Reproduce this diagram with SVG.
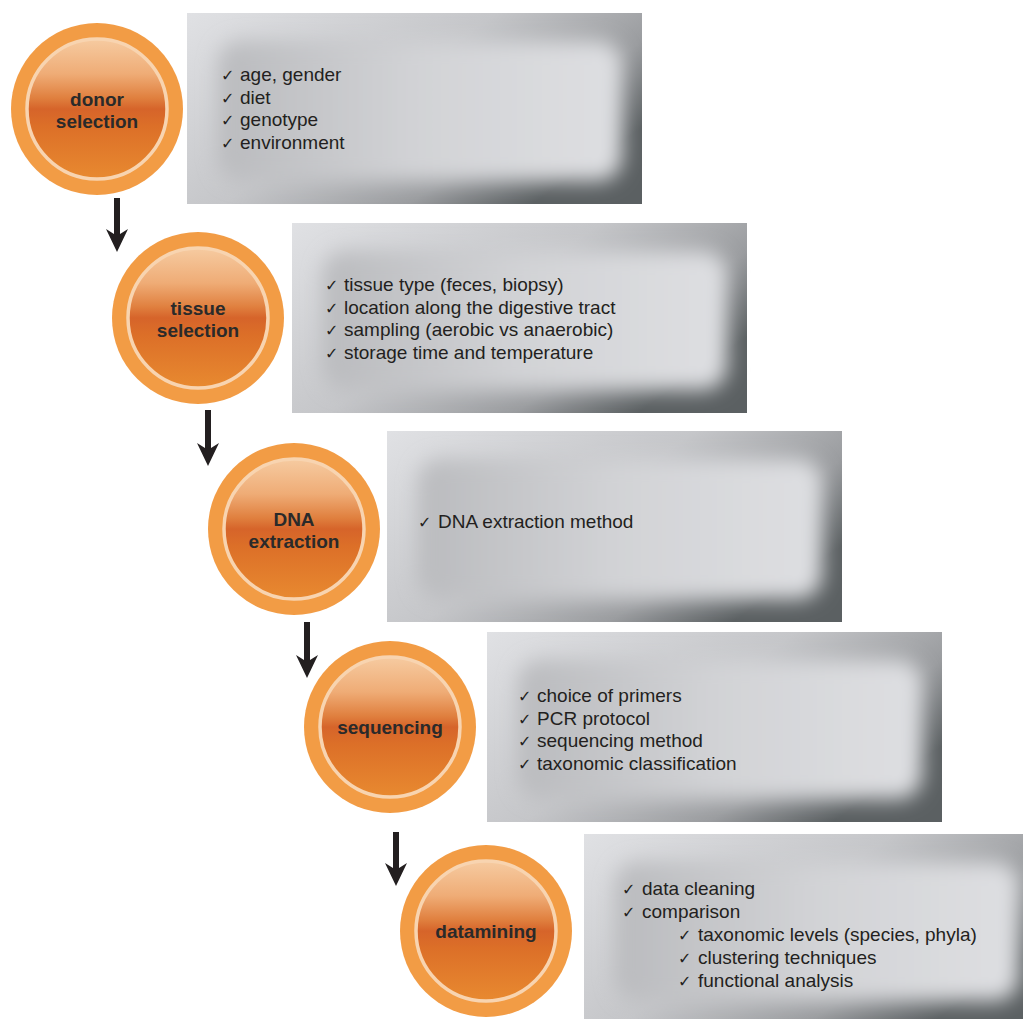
<svg xmlns="http://www.w3.org/2000/svg" width="1023" height="1019" viewBox="0 0 1023 1019">
<defs>
<linearGradient id="boxOuter" x1="0" y1="0" x2="1" y2="0.6">
<stop offset="0" stop-color="#e0e1e4"/>
<stop offset="0.5" stop-color="#c5c6c9"/>
<stop offset="0.8" stop-color="#9a9c9f"/>
<stop offset="1" stop-color="#5b6062"/>
</linearGradient>
<linearGradient id="boxInner" x1="0" y1="0" x2="1" y2="0">
<stop offset="0" stop-color="#babbbe"/>
<stop offset="0.5" stop-color="#d2d3d6"/>
<stop offset="1" stop-color="#dedfe2"/>
</linearGradient>
<filter id="blur" x="-15%" y="-30%" width="130%" height="160%">
<feGaussianBlur stdDeviation="10"/>
</filter>
<linearGradient id="disc" x1="0" y1="0" x2="0" y2="1">
<stop offset="0" stop-color="#f6cba1"/>
<stop offset="0.25" stop-color="#efac76"/>
<stop offset="0.42" stop-color="#e0803f"/>
<stop offset="0.5" stop-color="#d6642a"/>
<stop offset="0.62" stop-color="#dc6f28"/>
<stop offset="1" stop-color="#e88a30"/>
</linearGradient>
<clipPath id="page"><rect x="0" y="0" width="1023" height="1019"/></clipPath>
<symbol id="circ" overflow="visible">
<circle cx="0" cy="0" r="86" fill="#f29c45"/>
<circle cx="0" cy="0" r="70" fill="url(#disc)" stroke="#f8d4b0" stroke-width="3.5"/>
</symbol>
</defs>
<style>
.lbl{font-family:"Liberation Sans",Arial,sans-serif;font-weight:bold;font-size:19px;fill:#2a2a2a;text-anchor:middle}
.itm{font-family:"Liberation Sans",Arial,sans-serif;font-size:19px;fill:#231f20}
.ck{font-family:"DejaVu Sans",sans-serif;font-size:16px;fill:#231f20}
.arrow{fill:#231f20}
</style>
<rect width="1023" height="1019" fill="#ffffff"/>

<g id="box1">
<rect x="187" y="13" width="455" height="191" fill="url(#boxOuter)"/>
<rect x="218" y="41" width="404" height="140" rx="24" fill="url(#boxInner)" filter="url(#blur)"/>
<text class="ck" x="221" y="81">✓</text><text class="itm" x="240" y="81">age, gender</text>
<text class="ck" x="221" y="103.5">✓</text><text class="itm" x="240" y="103.5">diet</text>
<text class="ck" x="221" y="126">✓</text><text class="itm" x="240" y="126">genotype</text>
<text class="ck" x="221" y="148.5">✓</text><text class="itm" x="240" y="148.5">environment</text>
</g>

<g id="box2">
<rect x="292" y="223" width="455" height="190" fill="url(#boxOuter)"/>
<rect x="323" y="251" width="404" height="139" rx="24" fill="url(#boxInner)" filter="url(#blur)"/>
<text class="ck" x="325" y="291">✓</text><text class="itm" x="344" y="291">tissue type (feces, biopsy)</text>
<text class="ck" x="325" y="313.5">✓</text><text class="itm" x="344" y="313.5">location along the digestive tract</text>
<text class="ck" x="325" y="336">✓</text><text class="itm" x="344" y="336">sampling (aerobic vs anaerobic)</text>
<text class="ck" x="325" y="358.5">✓</text><text class="itm" x="344" y="358.5">storage time and temperature</text>
</g>

<g id="box3">
<rect x="387" y="431" width="455" height="191" fill="url(#boxOuter)"/>
<rect x="418" y="459" width="404" height="140" rx="24" fill="url(#boxInner)" filter="url(#blur)"/>
<text class="ck" x="418" y="528">✓</text><text class="itm" x="438" y="528">DNA extraction method</text>
</g>

<g id="box4">
<rect x="487" y="632" width="455" height="190" fill="url(#boxOuter)"/>
<rect x="518" y="660" width="404" height="139" rx="24" fill="url(#boxInner)" filter="url(#blur)"/>
<text class="ck" x="518" y="702">✓</text><text class="itm" x="537" y="702">choice of primers</text>
<text class="ck" x="518" y="724.5">✓</text><text class="itm" x="537" y="724.5">PCR protocol</text>
<text class="ck" x="518" y="747">✓</text><text class="itm" x="537" y="747">sequencing method</text>
<text class="ck" x="518" y="769.5">✓</text><text class="itm" x="537" y="769.5">taxonomic classification</text>
</g>

<g id="box5" clip-path="url(#page)">
<rect x="584" y="834" width="455" height="190" fill="url(#boxOuter)"/>
<rect x="615" y="862" width="404" height="139" rx="24" fill="url(#boxInner)" filter="url(#blur)"/>
<text class="ck" x="622" y="895">✓</text><text class="itm" x="642" y="895">data cleaning</text>
<text class="ck" x="622" y="918">✓</text><text class="itm" x="642" y="918">comparison</text>
<text class="ck" x="678" y="941">✓</text><text class="itm" x="698" y="941">taxonomic levels (species, phyla)</text>
<text class="ck" x="678" y="964">✓</text><text class="itm" x="698" y="964">clustering techniques</text>
<text class="ck" x="678" y="987">✓</text><text class="itm" x="698" y="987">functional analysis</text>
</g>

<g id="node1">
<use href="#circ" x="97" y="109"/>
<text class="lbl" x="97" y="106">donor</text>
<text class="lbl" x="97" y="128">selection</text>
</g>
<g id="node2">
<use href="#circ" x="198" y="318"/>
<text class="lbl" x="198" y="315">tissue</text>
<text class="lbl" x="198" y="337">selection</text>
</g>
<g id="node3">
<use href="#circ" x="294" y="529"/>
<text class="lbl" x="294" y="526">DNA</text>
<text class="lbl" x="294" y="548">extraction</text>
</g>
<g id="node4">
<use href="#circ" x="390" y="727"/>
<text class="lbl" x="390" y="734">sequencing</text>
</g>
<g id="node5">
<use href="#circ" x="486" y="931"/>
<text class="lbl" x="486" y="938">datamining</text>
</g>

<g id="connectors" class="arrow">
<path d="M114 198 H120 V234 L128 229 L117 252 L106 229 L114 234 Z"/>
<path d="M205 410 H211 V448 L219 443 L208 466 L197 443 L205 448 Z"/>
<path d="M304 622 H310 V660 L318 655 L307 678 L296 655 L304 660 Z"/>
<path d="M393 832 H399 V868 L407 863 L396 886 L385 863 L393 868 Z"/>
</g>
</svg>
